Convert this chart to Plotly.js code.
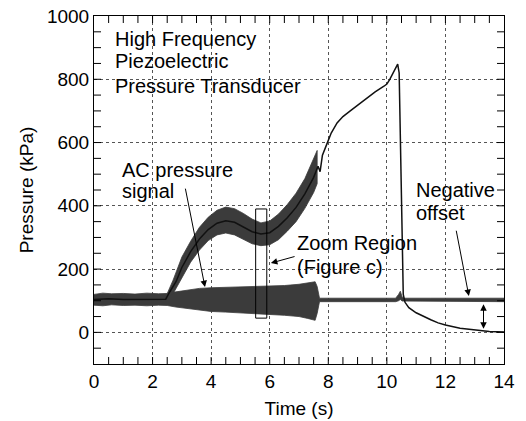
<!DOCTYPE html>
<html><head><meta charset="utf-8">
<script src="https://cdn.plot.ly/plotly-3.0.1.min.js"></script>
<style>html,body{margin:0;padding:0;background:#fff}#chart{width:526px;height:421px}</style>
</head><body><div id="chart"></div>
<script>
// Main pressure signal (black centre line)
const mainTime = [0, 0.5, 1.0, 1.5, 2.0, 2.45, 2.6, 2.8, 3.0, 3.3, 3.6, 3.9, 4.2, 4.5, 4.8, 5.1, 5.4, 5.7, 6.0, 6.3, 6.6, 6.9, 7.2, 7.5, 7.65, 7.72, 7.8, 7.95, 8.1, 8.3, 8.5, 8.75, 9.0, 9.3, 9.6, 9.9, 10.0, 10.1, 10.2, 10.3, 10.37, 10.42, 10.47, 10.52, 10.56, 10.62, 10.75, 11.0, 11.25, 11.5, 11.75, 12.0, 12.5, 13.0, 13.5, 14.0];
const mainPressure = [104, 106, 104, 105, 104, 105, 130, 160, 205, 255, 295, 325, 345, 353, 348, 333, 318, 311, 315, 335, 362, 395, 438, 490, 525, 508, 560, 595, 630, 662, 682, 700, 718, 740, 760, 778, 785, 800, 818, 838, 848, 820, 600, 300, 120, 95, 78, 62, 50, 40, 30, 23, 13, 7, 3, 1];
// Envelope of the main signal's high-frequency content
const mainBandTime = [2.45, 2.7, 3.0, 3.3, 3.6, 3.9, 4.2, 4.5, 4.8, 5.1, 5.4, 5.7, 6.0, 6.3, 6.6, 6.9, 7.2, 7.5, 7.62];
const mainBandUpper = [112, 165, 238, 288, 332, 364, 386, 396, 391, 376, 358, 346, 352, 374, 404, 440, 486, 548, 575];
const mainBandLower = [98, 122, 172, 222, 260, 290, 308, 314, 308, 293, 280, 274, 277, 293, 320, 350, 392, 442, 470];
// AC pressure signal envelope
const acTime = [0, 0.3, 0.6, 1.0, 1.4, 1.8, 2.2, 2.5, 2.8, 3.2, 3.6, 4.0, 4.5, 5.0, 5.5, 6.0, 6.5, 7.0, 7.3, 7.55, 7.62, 7.7, 8.5, 9.5, 10.3, 10.4, 10.46, 10.52, 10.6, 11.5, 12.5, 13.5, 14.0];
const acUpper = [120, 124, 122, 123, 121, 124, 122, 123, 128, 134, 139, 141, 142, 143, 144, 146, 148, 152, 156, 160, 145, 108, 108, 108, 108, 120, 130, 112, 108, 108, 108, 108, 108];
const acLower = [86, 84, 87, 85, 86, 84, 86, 85, 80, 74, 70, 66, 64, 62, 60, 57, 54, 50, 44, 38, 60, 97, 97, 97, 97, 100, 104, 99, 97, 97, 97, 97, 97];
// Zoom region box
const zoomBoxTime = [5.52, 5.9];
const zoomBoxPressure = [45, 390];
// Ticks
const xTicks = [0, 2, 4, 6, 8, 10, 12, 14];
const yTicks = [0, 200, 400, 600, 800, 1000];
const xRange = [0, 14];
const yRange = [-100, 1000];
// Text labels
const labels = [
  {text: 'High Frequency', x: 0.66, y: 928},
  {text: 'Piezoelectric', x: 0.66, y: 858},
  {text: 'Pressure Transducer', x: 0.66, y: 778},
  {text: 'AC pressure', x: 0.90, y: 514},
  {text: 'signal', x: 0.90, y: 446},
  {text: 'Zoom Region', x: 6.86, y: 283},
  {text: '(Figure c)', x: 6.86, y: 207},
  {text: 'Negative', x: 10.92, y: 450},
  {text: 'offset', x: 10.92, y: 377}
];
const arrows = [
  {tail: [3.11, 459], head: [3.79, 143]},
  {tail: [6.90, 241], head: [6.04, 219]},
  {tail: [12.36, 326], head: [12.80, 115]}
];
const offsetArrow = {x: 13.30, from: 89, to: 7};

const FONT = 'Arial, Liberation Sans, sans-serif';
const bandColor = '#3b3b3b';
const W = 526, H = 421, M = {l: 94, r: 22, t: 16, b: 57};
const TICK_PX = 7;

function band(t, up, lo) {
  return {
    x: t.concat(t.slice().reverse()),
    y: up.concat(lo.slice().reverse()),
    type: 'scatter', mode: 'lines', fill: 'toself',
    fillcolor: bandColor, line: {color: bandColor, width: 0.8},
    hoverinfo: 'skip', showlegend: false
  };
}

const traces = [
  band(acTime, acUpper, acLower),
  band(mainBandTime, mainBandUpper, mainBandLower),
  {x: mainTime, y: mainPressure, type: 'scatter', mode: 'lines',
   line: {color: '#111', width: 1.5}, showlegend: false}
];

const annotations = labels.map(l => ({
  text: l.text, x: l.x, y: l.y, xref: 'x', yref: 'y',
  xanchor: 'left', yanchor: 'middle', showarrow: false,
  font: {family: FONT, size: 20, color: '#000'}
}));
arrows.forEach(a => annotations.push({
  x: a.head[0], y: a.head[1], ax: a.tail[0], ay: a.tail[1],
  xref: 'x', yref: 'y', axref: 'x', ayref: 'y', text: '',
  showarrow: true, arrowhead: 2, arrowsize: 1.3, arrowwidth: 1, arrowcolor: '#000'
}));
annotations.push({
  x: offsetArrow.x, y: offsetArrow.from, ax: offsetArrow.x, ay: offsetArrow.to,
  xref: 'x', yref: 'y', axref: 'x', ayref: 'y', text: '',
  showarrow: true, arrowhead: 2, startarrowhead: 2, arrowside: 'end+start',
  arrowsize: 1.3, startarrowsize: 1.3, arrowwidth: 1, arrowcolor: '#000'
});

// Inside tick marks (major + minor, all four sides), placed on the axis scales
const shapes = [{
  type: 'rect', xref: 'x', yref: 'y',
  x0: zoomBoxTime[0], x1: zoomBoxTime[1], y0: zoomBoxPressure[0], y1: zoomBoxPressure[1],
  line: {color: '#000', width: 1}, fillcolor: 'rgba(0,0,0,0)'
}];
const plotW = W - M.l - M.r, plotH = H - M.t - M.b;
const fx = TICK_PX / plotH, fy = TICK_PX / plotW;
const xMinor = (xTicks[1] - xTicks[0]) / 4, yMinor = (yTicks[1] - yTicks[0]) / 4;
const tickLine = {color: '#000', width: 1};
for (let i = 1; xRange[0] + i * xMinor < xRange[1] - 1e-9; i++) {
  const v = xRange[0] + i * xMinor;
  shapes.push({type: 'line', xref: 'x', yref: 'paper', x0: v, x1: v, y0: 0, y1: fx, line: tickLine});
  shapes.push({type: 'line', xref: 'x', yref: 'paper', x0: v, x1: v, y0: 1, y1: 1 - fx, line: tickLine});
}
for (let i = 1; yRange[0] + i * yMinor < yRange[1] - 1e-9; i++) {
  const v = yRange[0] + i * yMinor;
  shapes.push({type: 'line', xref: 'paper', yref: 'y', x0: 0, x1: fy, y0: v, y1: v, line: tickLine});
  shapes.push({type: 'line', xref: 'paper', yref: 'y', x0: 1, x1: 1 - fy, y0: v, y1: v, line: tickLine});
}

function axis(range, vals, title, standoff) {
  return {
    range: range, tickvals: vals, ticks: '',
    showline: true, linecolor: '#000', linewidth: 1, mirror: true,
    showgrid: true, gridcolor: '#555', griddash: 'dot', gridwidth: 1,
    zeroline: false,
    title: {text: title, font: {family: FONT, size: 19, color: '#000'}, standoff: standoff},
    tickfont: {family: FONT, size: 19, color: '#000'}
  };
}

const layout = {
  width: W, height: H,
  margin: M,
  paper_bgcolor: '#fff', plot_bgcolor: '#fff',
  showlegend: false,
  font: {family: FONT, size: 19, color: '#000'},
  xaxis: axis(xRange, xTicks, 'Time (s)', 10),
  yaxis: axis(yRange, yTicks, 'Pressure (kPa)', 8),
  shapes: shapes,
  annotations: annotations
};

Plotly.newPlot('chart', traces, layout, {displayModeBar: false});
</script>
</body></html>
